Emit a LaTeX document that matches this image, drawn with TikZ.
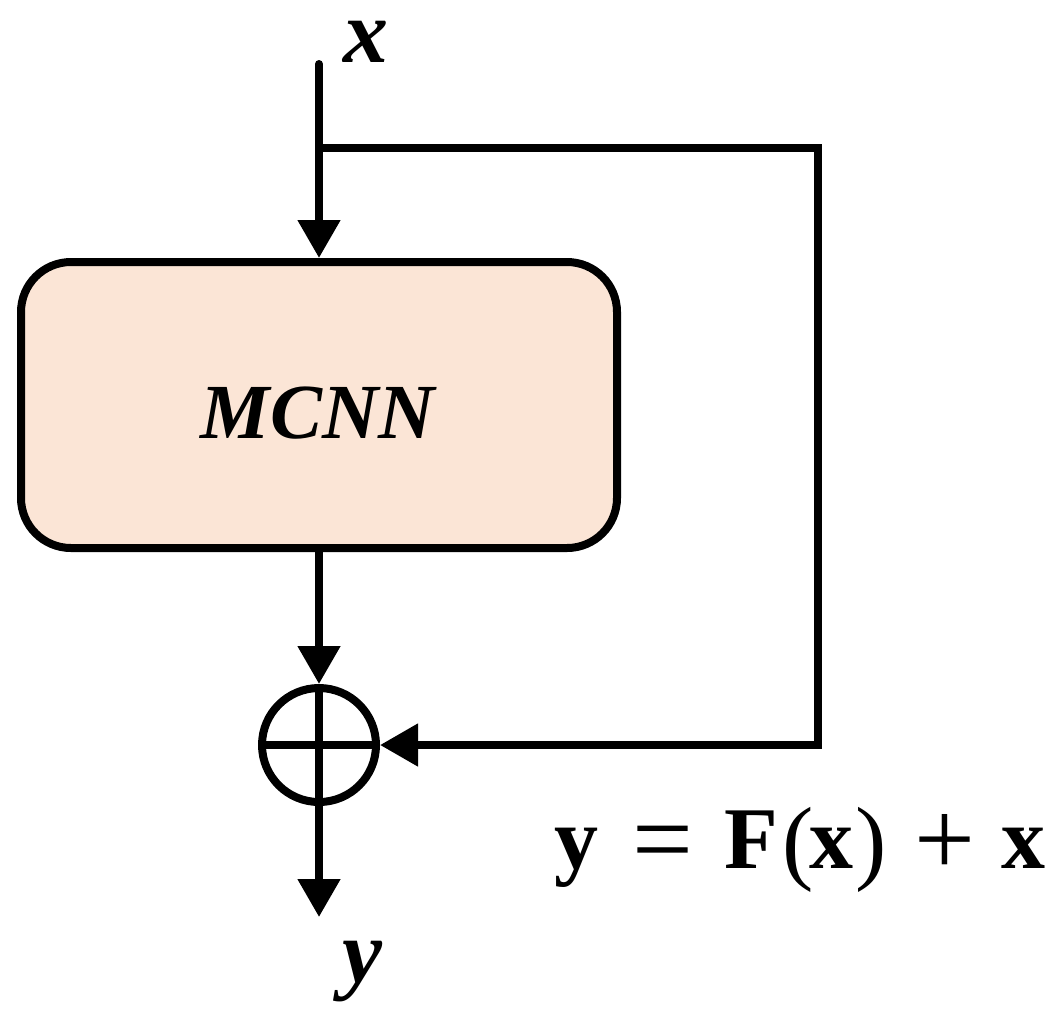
\documentclass[tikz,border=0pt]{standalone}
\usepackage{fontspec}
\setmainfont{Liberation Serif}
\usetikzlibrary{arrows.meta}
\definecolor{peach}{HTML}{FBE5D6}
\begin{document}
\begin{tikzpicture}[x=0.5pt,y=-0.5pt,
  conn/.style={line width=4pt},
  arr/.style={conn,-{Triangle[width=20.5pt,length=19pt]}},
  lbl/.style={inner sep=0pt,text height=0.47em,text depth=0.22em,font=\fontsize{45}{52}\selectfont\bfseries\itshape},
  eqb/.style={anchor=base west,inner sep=0pt,font=\fontsize{44}{52}\selectfont\bfseries},
  eqr/.style={anchor=base west,inner sep=0pt,font=\fontsize{47}{52}\selectfont},
  eqo/.style={anchor=base west,inner sep=0pt,font=\fontsize{54}{60}\selectfont}]
\useasboundingbox (0,0) rectangle (1063,1018);
\node[draw,line width=4pt,fill=peach,rounded corners=25pt,minimum width=298pt,minimum height=143pt,inner sep=0pt] (box) at (319,405) {};
\node[font=\fontsize{39}{46}\selectfont\bfseries\itshape] (mcnn) at (318,413) {MCNN};
\node[draw,circle,line width=4pt,minimum size=57pt,inner sep=0pt] (sum) at (319,745) {};
\draw[conn] (sum.north) -- (sum.south) (sum.west) -- (sum.east);
\coordinate (xin) at (319,64);
\coordinate (br) at (319,148);
\coordinate (c1) at (818,148);
\coordinate (c2) at (818,745);
\coordinate (yout) at (319,917);
\draw[arr,line cap=round] (xin) -- (box.north);
\draw[arr] (br) -- (c1) -- (c2) -- (sum.east);
\draw[arr] (box.south) -- (sum.north);
\draw[arr] (sum.south) -- (yout);
\node[lbl,anchor=base] (xl) at (366,62) {x};
\node[lbl,anchor=base] (yl) at (362,982) {y};
\node[eqb] (eq1) at (554,868) {y};
\node[eqo] (eq2) at (632,875) {=};
\node[eqb] (eq3) at (724,868) {F};
\node[eqr] (eq4) at (782,872) {(};
\node[eqb] (eq5) at (809,868) {x};
\node[eqr] (eq6) at (855,872) {)};
\node[eqo] (eq7) at (914,875) {+};
\node[eqb] (eq8) at (1001,868) {x};
\end{tikzpicture}
\end{document}
